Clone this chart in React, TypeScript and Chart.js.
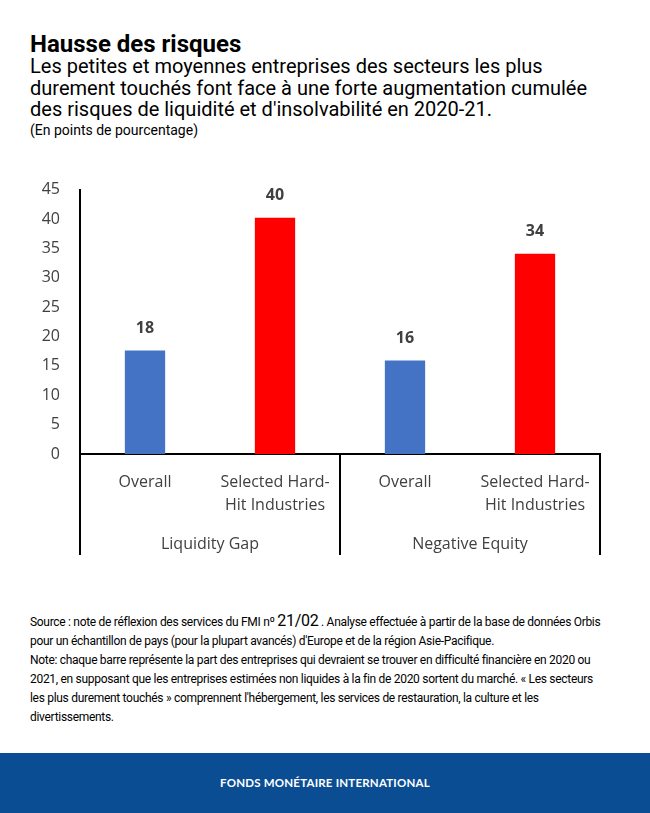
import React, { useEffect, useRef } from "react";
import { Chart, registerables } from "chart.js";

Chart.register(...registerables);

const categories: string[][] = [
  ["Overall"],
  ["Selected Hard-", "Hit Industries"],
  ["Overall"],
  ["Selected Hard-", "Hit Industries"],
];
const groups: string[] = ["Liquidity Gap", "Negative Equity"];
const values: number[] = [17.6, 40.2, 15.9, 34.1];
const valueLabels: string[] = ["18", "40", "16", "34"];
const barColors: string[] = ["#4472C4", "#FF0000", "#4472C4", "#FF0000"];

const TICK_FONT = "'Open Sans', 'Noto Sans', sans-serif";

const excelPlugin = {
  id: "excelDecor",
  afterDraw(chart: any) {
    const ctx = chart.ctx;
    const x = chart.scales.x;
    const y = chart.scales.y;
    const bottom = y.bottom;
    const ext = 101;
    ctx.save();
    ctx.strokeStyle = "#000000";
    ctx.lineWidth = 2;
    const mid = (x.getPixelForValue(1) + x.getPixelForValue(2)) / 2;
    [x.left, mid, x.right].forEach((px: number) => {
      ctx.beginPath();
      ctx.moveTo(px, bottom);
      ctx.lineTo(px, bottom + ext);
      ctx.stroke();
    });
    ctx.fillStyle = "#404040";
    ctx.font = `16px ${TICK_FONT}`;
    ctx.textAlign = "center";
    ctx.textBaseline = "middle";
    groups.forEach((g, i) => {
      const cx = (x.getPixelForValue(i * 2) + x.getPixelForValue(i * 2 + 1)) / 2;
      ctx.fillText(g, cx, bottom + 90);
    });
    ctx.font = `bold 16px ${TICK_FONT}`;
    const meta = chart.getDatasetMeta(0);
    meta.data.forEach((bar: any, i: number) => {
      ctx.fillText(valueLabels[i], bar.x, bar.y - 22);
    });
    ctx.restore();
  },
};

function BarChart() {
  const ref = useRef<HTMLCanvasElement | null>(null);
  useEffect(() => {
    if (!ref.current) return;
    const chart = new Chart(ref.current, {
      type: "bar",
      data: {
        labels: categories,
        datasets: [
          {
            data: values,
            backgroundColor: barColors,
            barPercentage: 0.62,
            categoryPercentage: 0.5,
          },
        ],
      },
      options: {
        animation: false,
        responsive: false,
        maintainAspectRatio: false,
        layout: { padding: { left: 0, right: 50, top: 7, bottom: 5 } },
        plugins: { legend: { display: false }, tooltip: { enabled: false } },
        scales: {
          x: {
            grid: { display: false, drawTicks: false },
            border: { display: true, color: "#000000", width: 2 },
            ticks: {
              color: "#404040",
              font: { family: TICK_FONT, size: 16, lineHeight: 1.45 },
              padding: 17,
              maxRotation: 0,
              autoSkip: false,
            },
            afterFit: (scale: any) => {
              scale.height = 101;
            },
          },
          y: {
            min: 0,
            max: 45,
            grid: { display: false, drawTicks: false },
            border: { display: true, color: "#000000", width: 2 },
            ticks: {
              stepSize: 5,
              color: "#404040",
              font: { family: TICK_FONT, size: 16 },
              padding: 20,
            },
            afterFit: (scale: any) => {
              scale.width = 80;
            },
          },
        },
      },
      plugins: [excelPlugin],
    });
    return () => chart.destroy();
  }, []);
  return (
    <canvas
      ref={ref}
      width={650}
      height={400}
      style={{ position: "absolute", left: 0, top: 160, width: 650, height: 400 }}
    />
  );
}

export default function App() {
  return (
    <div
      style={{
        position: "absolute",
        left: 0,
        top: 0,
        width: 650,
        height: 813,
        background: "#ffffff",
        fontFamily: "Roboto, sans-serif",
        color: "#000",
        overflow: "hidden",
      }}
    >
      <div style={{ position: "absolute", left: 30, top: 29, fontSize: 24, fontWeight: 700, lineHeight: "30px" }}>
        Hausse des risques
      </div>
      <div style={{ position: "absolute", left: 30, top: 56, width: 610, fontSize: 20, lineHeight: "21.5px" }}>
        Les petites et moyennes entreprises des secteurs les plus
        <br />
        durement touchés font face à une forte augmentation cumulée
        <br />
        des risques de liquidité et d'insolvabilité en 2020-21.
      </div>
      <div style={{ position: "absolute", left: 30, top: 122, fontSize: 14, lineHeight: "16px" }}>
        (En points de pourcentage)
      </div>
      <BarChart />
      <div
        style={{
          position: "absolute",
          left: 30,
          top: 612,
          width: 600,
          fontSize: 12,
          lineHeight: "18.9px",
          letterSpacing: -0.3,
          color: "#000",
        }}
      >
        Source : note de réflexion des services du FMI nº <span style={{ fontSize: 16 }}>21/02</span> . Analyse effectuée à partir de la base de données Orbis
        <br />
        pour un échantillon de pays (pour la plupart avancés) d'Europe et de la région Asie-Pacifique.
        <br />
        Note: chaque barre représente la part des entreprises qui devraient se trouver en difficulté financière en 2020 ou
        <br />
        2021, en supposant que les entreprises estimées non liquides à la fin de 2020 sortent du marché. « Les secteurs
        <br />
        les plus durement touchés » comprennent l'hébergement, les services de restauration, la culture et les
        <br />
        divertissements.
      </div>
      <div
        style={{
          position: "absolute",
          left: 0,
          top: 753,
          width: 650,
          height: 60,
          background: "#0B4D93",
          color: "#ffffff",
          fontFamily: "Lato, 'Open Sans', sans-serif",
          fontWeight: 700,
          fontSize: 11.5,
          textAlign: "center",
          lineHeight: "60px",
          letterSpacing: 0.2,
        }}
      >
        FONDS MONÉTAIRE INTERNATIONAL
      </div>
    </div>
  );
}
